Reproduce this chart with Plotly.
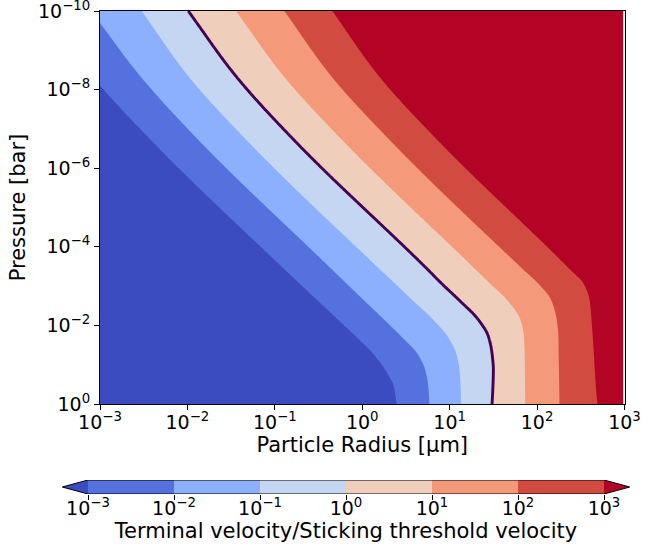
import numpy as np
import plotly.graph_objects as go

# ---------------- data ----------------
# contour levels: log10(terminal velocity / sticking threshold velocity)
levels = [-3, -2, -1, 0, 1, 2, 3]
level_labels = ["10<sup>−3</sup>", "10<sup>−2</sup>", "10<sup>−1</sup>", "10<sup>0</sup>",
                "10<sup>1</sup>", "10<sup>2</sup>", "10<sup>3</sup>"]

# pressure rows, log10(P / bar)
log_p_rows = [-10.0, -8.37, -6.72, -3.42, -3.07, -2.65, -2.14, -1.71, -1.25, -0.87, -0.45, 0.0]

# log10(radius / um) where the ratio crosses each level, at each pressure row
cross_m3 = [-3.64, -3.10, -2.42, -0.887, -0.72, -0.519, -0.275, -0.069, 0.135, 0.262, 0.36, 0.394]
cross_m2 = [-3.10, -2.55, -1.875, -0.345, -0.183, 0.014, 0.253, 0.45, 0.64, 0.72, 0.755, 0.768]
cross_m1 = [-2.523, -2.0, -1.326, 0.205, 0.372, 0.571, 0.813, 0.98, 1.08, 1.112, 1.125, 1.13]
cross_0 = [-1.99, -1.455, -0.782, 0.75, 0.906, 1.105, 1.33, 1.445, 1.487, 1.5, 1.495, 1.485]
cross_p1 = [-1.444, -0.91, -0.231, 1.298, 1.46, 1.655, 1.81, 1.85, 1.858, 1.86, 1.862, 1.863]
cross_p2 = [-0.891, -0.365, 0.312, 1.842, 2.01, 2.16, 2.225, 2.244, 2.247, 2.25, 2.253, 2.256]
cross_p3 = [-0.342, 0.18, 0.858, 2.378, 2.53, 2.6, 2.623, 2.637, 2.65, 2.66, 2.672, 2.69]

# axis tick values
x_tick_vals = [1e-3, 1e-2, 1e-1, 1e0, 1e1, 1e2, 1e3]
y_tick_vals = [1e-10, 1e-8, 1e-6, 1e-4, 1e-2, 1e0]
y_tick_text = ["10<sup>−10</sup>", "10<sup>−8</sup>", "10<sup>−6</sup>", "10<sup>−4</sup>",
               "10<sup>−2</sup>", "10<sup>0</sup>"]

# band colours (coolwarm, with under / over extensions)
band_colors = ["#3b4cc0", "#5471de", "#8db0fe", "#c5d6f2", "#f0cebc", "#f49a7b", "#d24b40", "#b40426"]
line_color = "#440154"

FONT = "DejaVu Sans"
TICK_SIZE = 19
TITLE_SIZE = 21


# ---------------- smooth (shape-preserving) interpolation of the read crossings ----------------
def pchip(xk, yk, x):
    xk = np.asarray(xk, float)
    yk = np.asarray(yk, float)
    h = np.diff(xk)
    d = np.diff(yk) / h
    m = np.zeros_like(yk)
    for k in range(1, len(xk) - 1):
        if d[k - 1] * d[k] > 0:
            w1 = 2 * h[k] + h[k - 1]
            w2 = h[k] + 2 * h[k - 1]
            m[k] = (w1 + w2) / (w1 / d[k - 1] + w2 / d[k])
    m[0] = d[0]
    m[-1] = d[-1]
    idx = np.clip(np.searchsorted(xk, x) - 1, 0, len(h) - 1)
    t = (x - xk[idx]) / h[idx]
    h00 = 2 * t ** 3 - 3 * t ** 2 + 1
    h10 = t ** 3 - 2 * t ** 2 + t
    h01 = -2 * t ** 3 + 3 * t ** 2
    h11 = t ** 3 - t ** 2
    return h00 * yk[idx] + h10 * h[idx] * m[idx] + h01 * yk[idx + 1] + h11 * h[idx] * m[idx + 1]


crossings = [cross_m3, cross_m2, cross_m1, cross_0, cross_p1, cross_p2, cross_p3]
u = np.linspace(-3, 2.985, 601)
p = np.linspace(-10, 0, 501)
B = np.array([pchip(log_p_rows, c, p) for c in crossings])
lv = np.array(levels, dtype=float)
z = np.empty((len(p), len(u)))
for i in range(len(p)):
    b = B[:, i]
    bx = np.concatenate([[b[0] - 10], b, [b[-1] + 10]])
    bz = np.concatenate([[lv[0] - 10 / (b[1] - b[0])], lv, [lv[-1] + 10 / (b[-1] - b[-2])]])
    z[i] = np.interp(u, bx, bz)

xv = 10 ** u
yv = 10 ** p

# step colourscale: region k coloured at k/(n-1)
n = len(band_colors)
cs = []
for k, c in enumerate(band_colors):
    lo = max(0.0, (k - 0.5) / (n - 1))
    hi = min(1.0, (k + 0.5) / (n - 1))
    cs.append([lo, c])
    cs.append([hi, c])

fig = go.Figure()
fig.add_trace(go.Contour(
    x=xv, y=yv, z=z, autocontour=False,
    contours=dict(start=levels[0], end=levels[-1], size=1, coloring="fill"),
    colorscale=cs, line=dict(width=0), showscale=False, hoverinfo="skip",
))
fig.add_trace(go.Contour(
    x=xv, y=yv, z=z, autocontour=False,
    contours=dict(start=0, end=0.5, size=1, coloring="none"),
    line=dict(color=line_color, width=2.9, smoothing=1), showscale=False, hoverinfo="skip",
))

# ---------------- colour bar built on a second axis pair ----------------
ext = 0.05 * (levels[-1] - levels[0])
centers = [(levels[i] + levels[i + 1]) / 2 for i in range(len(levels) - 1)]
fig.add_trace(go.Bar(
    x=centers, y=[1] * len(centers), base=0, width=1,
    marker=dict(color=band_colors[1:-1], line=dict(width=0)),
    xaxis="x2", yaxis="y2", showlegend=False, hoverinfo="skip",
))
fig.add_trace(go.Scatter(
    x=[levels[0], levels[0] - ext, levels[0], levels[0]], y=[0, 0.5, 1, 0],
    fill="toself", fillcolor=band_colors[0], mode="lines", line=dict(width=0),
    xaxis="x2", yaxis="y2", showlegend=False, hoverinfo="skip",
))
fig.add_trace(go.Scatter(
    x=[levels[-1], levels[-1] + ext, levels[-1], levels[-1]], y=[0, 0.5, 1, 0],
    fill="toself", fillcolor=band_colors[-1], mode="lines", line=dict(width=0),
    xaxis="x2", yaxis="y2", showlegend=False, hoverinfo="skip",
))
fig.add_trace(go.Scatter(
    x=[levels[0] - ext, levels[0], levels[-1], levels[-1] + ext, levels[-1], levels[0], levels[0] - ext],
    y=[0.5, 0, 0, 0.5, 1, 1, 0.5],
    mode="lines", line=dict(color="black", width=1),
    xaxis="x2", yaxis="y2", showlegend=False, hoverinfo="skip",
))

W, H = 668, 549
axis_common = dict(showgrid=False, zeroline=False, showline=True, linecolor="black", linewidth=1,
                   ticks="outside", ticklen=5, tickwidth=1, tickcolor="black", automargin=False,
                   ticklabeloverflow="allow",
                   tickfont=dict(family=FONT, size=TICK_SIZE, color="black"))

fig.update_layout(
    width=W, height=H, margin=dict(l=0, r=0, t=0, b=0, autoexpand=False),
    paper_bgcolor="white", plot_bgcolor="white",
    font=dict(family=FONT, color="black"),
    showlegend=False, bargap=0,
    xaxis=dict(type="log", range=[-3, 3],
               domain=[100 / W, 624.5 / W], anchor="y", mirror=True,
               tickvals=x_tick_vals, ticktext=level_labels, ticklabelstandoff=-4,
               title=dict(text="Particle Radius [μm]", font=dict(family=FONT, size=TITLE_SIZE), standoff=1),
               **axis_common),
    yaxis=dict(type="log", range=[0, -10],
               domain=[1 - 404 / H, 1 - 11 / H], anchor="x", mirror=True,
               tickvals=y_tick_vals, ticktext=y_tick_text,
               title=dict(text="Pressure [bar]", font=dict(family=FONT, size=TITLE_SIZE), standoff=6),
               **axis_common),
    xaxis2=dict(range=[levels[0] - ext, levels[-1] + ext], domain=[62.2 / W, 629.8 / W], anchor="y2",
                showgrid=False, zeroline=False, showline=False, automargin=False,
                ticklabeloverflow="allow", ticklabelstandoff=-8,
                ticks="outside", ticklen=5, tickwidth=1, tickcolor="black",
                tickvals=levels, ticktext=level_labels,
                tickfont=dict(family=FONT, size=TICK_SIZE, color="black"),
                title=dict(text="Terminal velocity/Sticking threshold velocity",
                           font=dict(family=FONT, size=TITLE_SIZE), standoff=2)),
    yaxis2=dict(range=[0, 1], domain=[1 - 494 / H, 1 - 480 / H], anchor="x2", visible=False),
)

fig.write_html("out.html")
